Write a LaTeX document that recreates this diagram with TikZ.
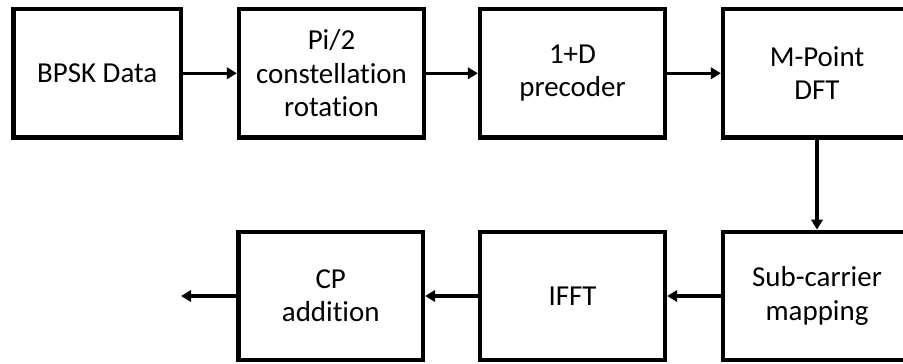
\documentclass[tikz,border=0pt]{standalone}
\usepackage{fontspec}
\setmainfont{Carlito}[RawFeature={-liga;-clig}]
\usetikzlibrary{arrows.meta}
\begin{document}
\begin{tikzpicture}[x=0.75pt,y=-0.75pt,
  blk/.style={draw,line width=3.2pt,minimum height=128.5*0.75pt,inner sep=0pt,align=center,
    font=\fontsize{21.7}{25}\selectfont},
  conn/.style={line width=2.3pt,-{Triangle[length=7.5pt,width=8.5pt]}}]
\useasboundingbox (0,0) rectangle (903,364);
\clip (0,0) rectangle (903,364);
\node[blk,minimum width=167.5*0.75pt] (bpsk) at (97.25,73.25) {BPSK Data};
\node[blk,minimum width=185*0.75pt] (rot) at (331.5,73.25) {Pi/2\\constellation\\rotation};
\node[blk,minimum width=185*0.75pt] (pre) at (572.5,73.25) {1+D\\precoder};
\node[blk,minimum width=188*0.75pt] (dft) at (817,73.25) {M-Point\\DFT};
\node[blk,minimum width=188*0.75pt] (sub) at (817,296) {Sub-carrier\\mapping};
\node[blk,minimum width=185*0.75pt] (ifft) at (572.5,296) {IFFT};
\node[blk,minimum width=184.5*0.75pt] (cp) at (330.75,296) {CP\\addition};
\coordinate (out) at (181,296);
\draw[conn] (bpsk) -- (rot);
\draw[conn] (rot) -- (pre);
\draw[conn] (pre) -- (dft);
\draw[conn] (dft) -- (sub);
\draw[conn] (sub) -- (ifft);
\draw[conn] (ifft) -- (cp);
\draw[conn] (cp) -- (out);
\end{tikzpicture}
\end{document}
